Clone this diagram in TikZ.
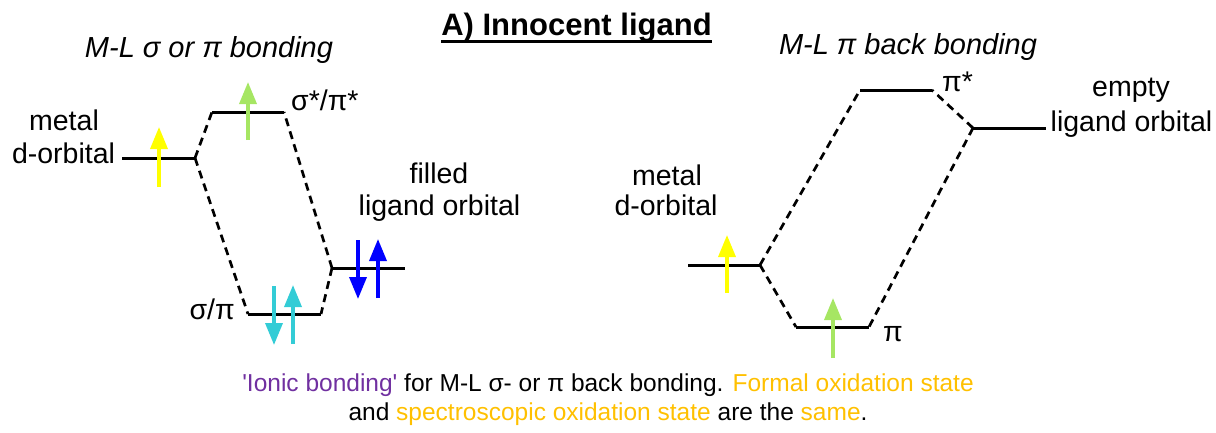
\documentclass[tikz,border=0pt]{standalone}
\usepackage{fontspec}
\setmainfont{Liberation Sans}
\usetikzlibrary{arrows.meta}
\definecolor{spinyellow}{HTML}{FFFF00}
\definecolor{spingreen}{HTML}{A6E663}
\definecolor{spincyan}{HTML}{33CCD6}
\definecolor{spinblue}{HTML}{0000FF}
\definecolor{ionic}{HTML}{7030A0}
\definecolor{oxgold}{HTML}{FFC000}
\newcommand\lblfont{\fontsize{28.5}{33}\selectfont}
\newcommand\notefont{\fontsize{24.5}{29}\selectfont}
\newcommand\sq{\XeTeXglyph\XeTeXglyphindex "quotesingle"\relax}
\tikzset{
  level/.style={line width=3pt, line cap=butt},
  corr/.style={line width=2.7pt, dash pattern=on 8pt off 5.5pt},
  spin/.style={line width=3.5pt, -{Triangle[width=17pt,length=22pt]}},
  lbl/.style={inner sep=0pt, anchor=base, font=\lblfont},
}
\begin{document}
\begin{tikzpicture}[x=1pt,y=-1pt]
\useasboundingbox (0,0) rectangle (1216,432);
% ---------- title ----------
\node[inner sep=0pt, anchor=base, font=\fontsize{31}{36}\selectfont\bfseries] (title) at (576.5,35) {A) Innocent ligand};
\draw[line width=2.2pt] ([yshift=-6.5pt]title.base west) -- ([yshift=-6.5pt]title.base east);
\node[lbl, font=\fontsize{29}{34}\selectfont\itshape] (subL) at (209,57) {M-L σ or π bonding};
\node[lbl, font=\fontsize{29}{34}\selectfont\itshape] (subR) at (908,54) {M-L π back bonding};
% ---------- left diagram ----------
\coordinate (mA) at (122,158); \coordinate (mB) at (195,158);
\coordinate (sAa) at (212,112); \coordinate (sAb) at (284,112);
\coordinate (sBa) at (248,314); \coordinate (sBb) at (321,314);
\coordinate (lA) at (332,268); \coordinate (lB) at (405,268);
\draw[level] (mA) -- (mB);
\draw[level] (sAa) -- (sAb);
\draw[level] (sBa) -- (sBb);
\draw[level] (lA) -- (lB);
\draw[corr] (mB) -- (sAa);
\draw[corr] (mB) -- (sBa);
\draw[corr] (lA) -- (sAb);
\draw[corr] (lA) -- (sBb);
\draw[spin, spinyellow] (159,187) -- (159,127);
\draw[spin, spingreen] (248,140) -- (248,82);
\draw[spin, spinblue] (358,240) -- (358,299);
\draw[spin, spinblue] (378,298) -- (378,239);
\draw[spin, spincyan] (274,286) -- (274,345);
\draw[spin, spincyan] (293,344) -- (293,285);
\node[lbl] (lm1) at (64,130) {metal};
\node[lbl] (lm2) at (63.5,163) {d-orbital};
\node[lbl] (lf1) at (439,183) {filled};
\node[lbl] (lf2) at (439.5,215) {ligand orbital};
\node[lbl, anchor=base west] (lss) at (291,110) {σ*/π*};
\node[lbl, anchor=base east] (ls) at (235,319) {σ/π};
% ---------- right diagram ----------
\coordinate (rmA) at (688,265); \coordinate (rmB) at (760,265);
\coordinate (pAa) at (860,90); \coordinate (pAb) at (932,90);
\coordinate (pBa) at (796,327); \coordinate (pBb) at (869,327);
\coordinate (rlA) at (973,128); \coordinate (rlB) at (1046,128);
\draw[level] (rmA) -- (rmB);
\draw[level] (pAa) -- (pAb);
\draw[level] (pBa) -- (pBb);
\draw[level] (rlA) -- (rlB);
\draw[corr] (rmB) -- (pAa);
\draw[corr] (rmB) -- (pBa);
\draw[corr] (rlA) -- (pAb);
\draw[corr] (rlA) -- (pBb);
\draw[spin, spinyellow] (727,293) -- (727,235);
\draw[spin, spingreen] (833,358) -- (833,298);
\node[lbl] (rm1) at (667,185) {metal};
\node[lbl] (rm2) at (666,215) {d-orbital};
\node[lbl] (re1) at (1131,96) {empty};
\node[lbl] (re2) at (1131.5,131) {ligand orbital};
\node[lbl, anchor=base west] (lps) at (942,91) {π*};
\node[lbl, anchor=base west] (lp) at (883,341) {π};
% ---------- note ----------
\node[inner sep=0pt, anchor=base, font=\notefont] (note1) at (608,391)
  {\textcolor{ionic}{\sq Ionic bonding\sq} for M-L σ- or π back bonding. \textcolor{oxgold}{Formal oxidation state}};
\node[inner sep=0pt, anchor=base, font=\notefont] (note2) at (608,420)
  {and \textcolor{oxgold}{spectroscopic oxidation state} are the \textcolor{oxgold}{same}.};
\end{tikzpicture}
\end{document}
